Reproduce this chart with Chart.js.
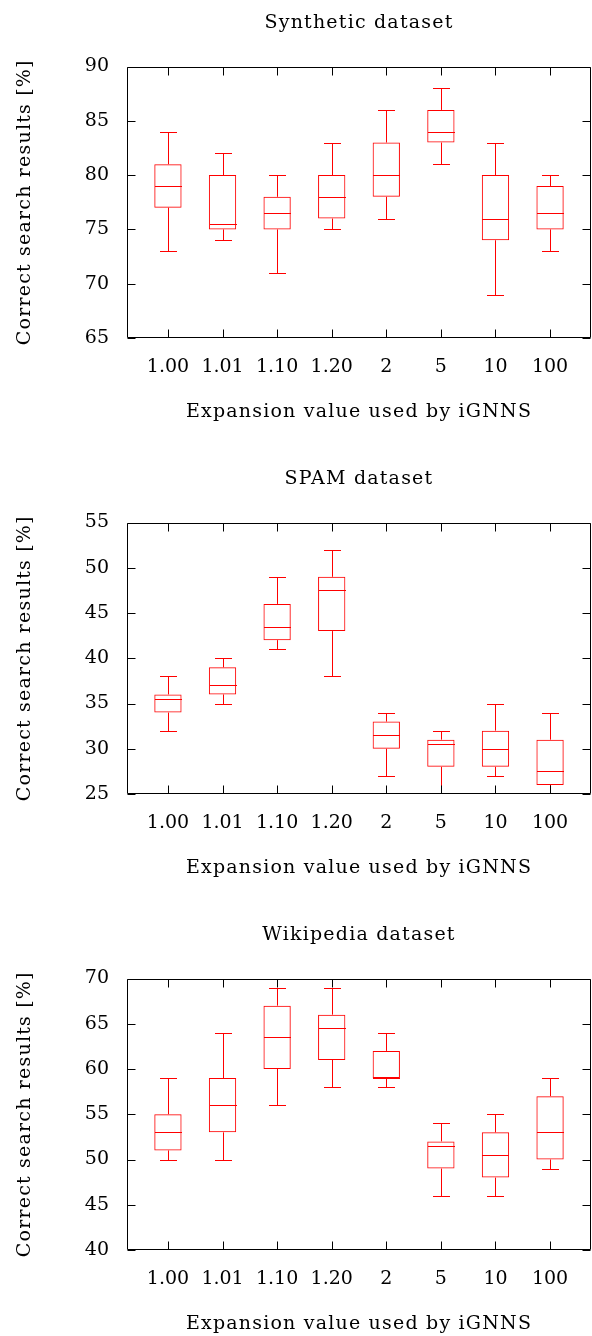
<!DOCTYPE html>
<html><head><meta charset="utf-8">
<script src="https://cdn.jsdelivr.net/npm/chart.js@4/dist/chart.umd.min.js"></script>
<style>
html,body{margin:0;padding:0;background:#fff;overflow:hidden;width:592px;height:1336px;}
.wrap{position:absolute;left:0;width:592px;height:456px;}
canvas{display:block;}
</style></head><body>
<div class="wrap" style="top:0px"><canvas id="c1" width="592" height="456"></canvas></div>
<div class="wrap" style="top:456px"><canvas id="c2" width="592" height="456"></canvas></div>
<div class="wrap" style="top:912px"><canvas id="c3" width="592" height="456"></canvas></div>
<script>
// ---- data ----
const CATEGORIES = ['1.00', '1.01', '1.10', '1.20', '2', '5', '10', '100'];
const X_TITLE = 'Expansion value used by iGNNS';
const Y_TITLE = 'Correct search results [%]';

const SYN_TITLE = 'Synthetic dataset';
const SYN_MIN = [73, 74, 71, 75, 76, 81, 69, 73];
const SYN_Q1  = [77, 75, 75, 76, 78, 83, 74, 75];
const SYN_MED = [79, 75.5, 76.5, 78, 80, 84, 76, 76.5];
const SYN_Q3  = [81, 80, 78, 80, 83, 86, 80, 79];
const SYN_MAX = [84, 82, 80, 83, 86, 88, 83, 80];
const SYN_RANGE = [65, 90];

const SPAM_TITLE = 'SPAM dataset';
const SPAM_MIN = [32, 35, 41, 38, 27, 24, 27, 24];
const SPAM_Q1  = [34, 36, 42, 43, 30, 28, 28, 26];
const SPAM_MED = [35.5, 37, 43.5, 47.5, 31.5, 30.5, 30, 27.5];
const SPAM_Q3  = [36, 39, 46, 49, 33, 31, 32, 31];
const SPAM_MAX = [38, 40, 49, 52, 34, 32, 35, 34];
const SPAM_RANGE = [25, 55];

const WIKI_TITLE = 'Wikipedia dataset';
const WIKI_MIN = [50, 50, 56, 58, 58, 46, 46, 49];
const WIKI_Q1  = [51, 53, 60, 61, 59, 49, 48, 50];
const WIKI_MED = [53, 56, 63.5, 64.5, 59, 51.5, 50.5, 53];
const WIKI_Q3  = [55, 59, 67, 66, 62, 52, 53, 57];
const WIKI_MAX = [59, 64, 69, 69, 64, 54, 55, 59];
const WIKI_RANGE = [40, 70];

const Y_STEP = 5;

// ---- style ----
const FONT = 'DejaVu Serif';
const RED = '#ff0000';
const TITLE_LS = '1.2px';
const BOX_W = 0.5;   // in category units
const CAP_W = 0.3;
const TICK_LEN = 8;

function makeChart(id, title, range, mins, q1s, meds, q3s, maxs) {
  const extras = {
    id: 'boxExtras',
    afterLayout(chart) {
      if (chart.$lsWrapped) return;
      chart.$lsWrapped = true;
      const wrap = (obj, name) => {
        if (!obj || !obj[name]) return;
        const orig = obj[name];
        obj[name] = function (...args) {
          const c = chart.ctx;
          c.save();
          c.letterSpacing = TITLE_LS;
          const r = orig.apply(this, args);
          c.letterSpacing = '0px';
          c.restore();
          return r;
        };
      };
      wrap(chart.titleBlock, 'draw');
      wrap(chart.scales.x, 'drawTitle');
      wrap(chart.scales.y, 'drawTitle');
    },
    afterDatasetsDraw(chart) {
      const {ctx, chartArea: a, scales: {x, y}} = chart;
      ctx.save();
      ctx.beginPath();
      ctx.rect(a.left, a.top, a.right - a.left, a.bottom - a.top);
      ctx.clip();
      ctx.strokeStyle = RED;
      ctx.lineWidth = 1;
      const crisp = v => Math.round(v) + 0.5;
      for (let i = 0; i < CATEGORIES.length; i++) {
        const px = crisp(x.getPixelForValue(i));
        const capHalf = x.getPixelForValue(i + CAP_W / 2) - x.getPixelForValue(i);
        const boxHalf = x.getPixelForValue(i + BOX_W / 2) - x.getPixelForValue(i);
        const yMin = crisp(y.getPixelForValue(mins[i]));
        const yQ1 = y.getPixelForValue(q1s[i]);
        const yMed = crisp(y.getPixelForValue(meds[i]));
        const yQ3 = y.getPixelForValue(q3s[i]);
        const yMax = crisp(y.getPixelForValue(maxs[i]));
        ctx.beginPath();
        // whiskers
        ctx.moveTo(px, yQ3); ctx.lineTo(px, yMax);
        ctx.moveTo(px, yQ1); ctx.lineTo(px, yMin);
        // caps
        ctx.moveTo(Math.round(px - capHalf), yMax); ctx.lineTo(Math.round(px + capHalf), yMax);
        ctx.moveTo(Math.round(px - capHalf), yMin); ctx.lineTo(Math.round(px + capHalf), yMin);
        // median
        ctx.moveTo(Math.round(px - boxHalf), yMed); ctx.lineTo(Math.round(px + boxHalf), yMed);
        ctx.stroke();
      }
      ctx.restore();
    },
    afterDraw(chart) {
      const {ctx, chartArea: a, scales: {x, y}} = chart;
      ctx.save();
      ctx.strokeStyle = '#000';
      ctx.lineWidth = 1;
      const L = Math.round(a.left) + 0.5, R = Math.round(a.right) - 0.5;
      const T = Math.round(a.top) + 0.5, B = Math.round(a.bottom) - 0.5;
      ctx.beginPath();
      ctx.rect(L, T, R - L, B - T);
      // y tick marks (inward, mirrored)
      y.ticks.forEach(t => {
        const py = Math.round(y.getPixelForValue(t.value)) + 0.5;
        ctx.moveTo(L, py); ctx.lineTo(L + TICK_LEN, py);
        ctx.moveTo(R, py); ctx.lineTo(R - TICK_LEN, py);
      });
      // x tick marks (inward, mirrored)
      x.ticks.forEach(t => {
        const px = Math.round(x.getPixelForValue(t.value)) + 0.5;
        ctx.moveTo(px, B); ctx.lineTo(px, B - TICK_LEN);
        ctx.moveTo(px, T); ctx.lineTo(px, T + TICK_LEN);
      });
      ctx.stroke();
      ctx.restore();
    }
  };

  return new Chart(document.getElementById(id), {
    type: 'bar',
    data: {
      datasets: [{
        label: title,
        data: CATEGORIES.map((c, i) => ({x: i, y: [q1s[i], q3s[i]]})),
        backgroundColor: 'rgba(0,0,0,0)',
        borderColor: RED,
        borderWidth: 1,
        borderSkipped: false,
        barPercentage: BOX_W,
        categoryPercentage: 1.0
      }]
    },
    options: {
      responsive: false,
      animation: false,
      events: [],
      layout: {padding: {left: 0, right: 1, top: 0, bottom: 0}},
      plugins: {
        legend: {display: false},
        tooltip: {enabled: false},
        title: {
          display: true, text: title, fullSize: false, color: '#000',
          font: {family: FONT, size: 19, weight: 'normal', lineHeight: 1.2},
          padding: {top: 11.6, bottom: 32.1}
        }
      },
      scales: {
        x: {
          type: 'linear', min: -0.75, max: 7.75, offset: false,
          afterBuildTicks: s => { s.ticks = CATEGORIES.map((c, i) => ({value: i})); },
          afterFit: s => { s.height = 118; },
          grid: {display: false, drawTicks: false, offset: false},
          border: {display: false},
          ticks: {
            color: '#000', padding: 18, maxRotation: 0, autoSkip: false,
            font: {family: FONT, size: 19, lineHeight: 1.2},
            callback: v => CATEGORIES[v]
          },
          title: {
            display: true, text: X_TITLE, color: '#000',
            font: {family: FONT, size: 19, lineHeight: 1.2},
            padding: {top: 0, bottom: 33}
          }
        },
        y: {
          type: 'linear', min: range[0], max: range[1],
          afterFit: s => { s.width = 127; },
          grid: {display: false, drawTicks: false},
          border: {display: false},
          ticks: {
            color: '#000', padding: 18, stepSize: Y_STEP,
            font: {family: FONT, size: 19, lineHeight: 1.2}
          },
          title: {
            display: true, text: Y_TITLE, color: '#000',
            font: {family: FONT, size: 19, lineHeight: 1.2},
            padding: {top: 14, bottom: 0}
          }
        }
      }
    },
    plugins: [extras]
  });
}

makeChart('c1', SYN_TITLE, SYN_RANGE, SYN_MIN, SYN_Q1, SYN_MED, SYN_Q3, SYN_MAX);
makeChart('c2', SPAM_TITLE, SPAM_RANGE, SPAM_MIN, SPAM_Q1, SPAM_MED, SPAM_Q3, SPAM_MAX);
makeChart('c3', WIKI_TITLE, WIKI_RANGE, WIKI_MIN, WIKI_Q1, WIKI_MED, WIKI_Q3, WIKI_MAX);
</script>
</body></html>
